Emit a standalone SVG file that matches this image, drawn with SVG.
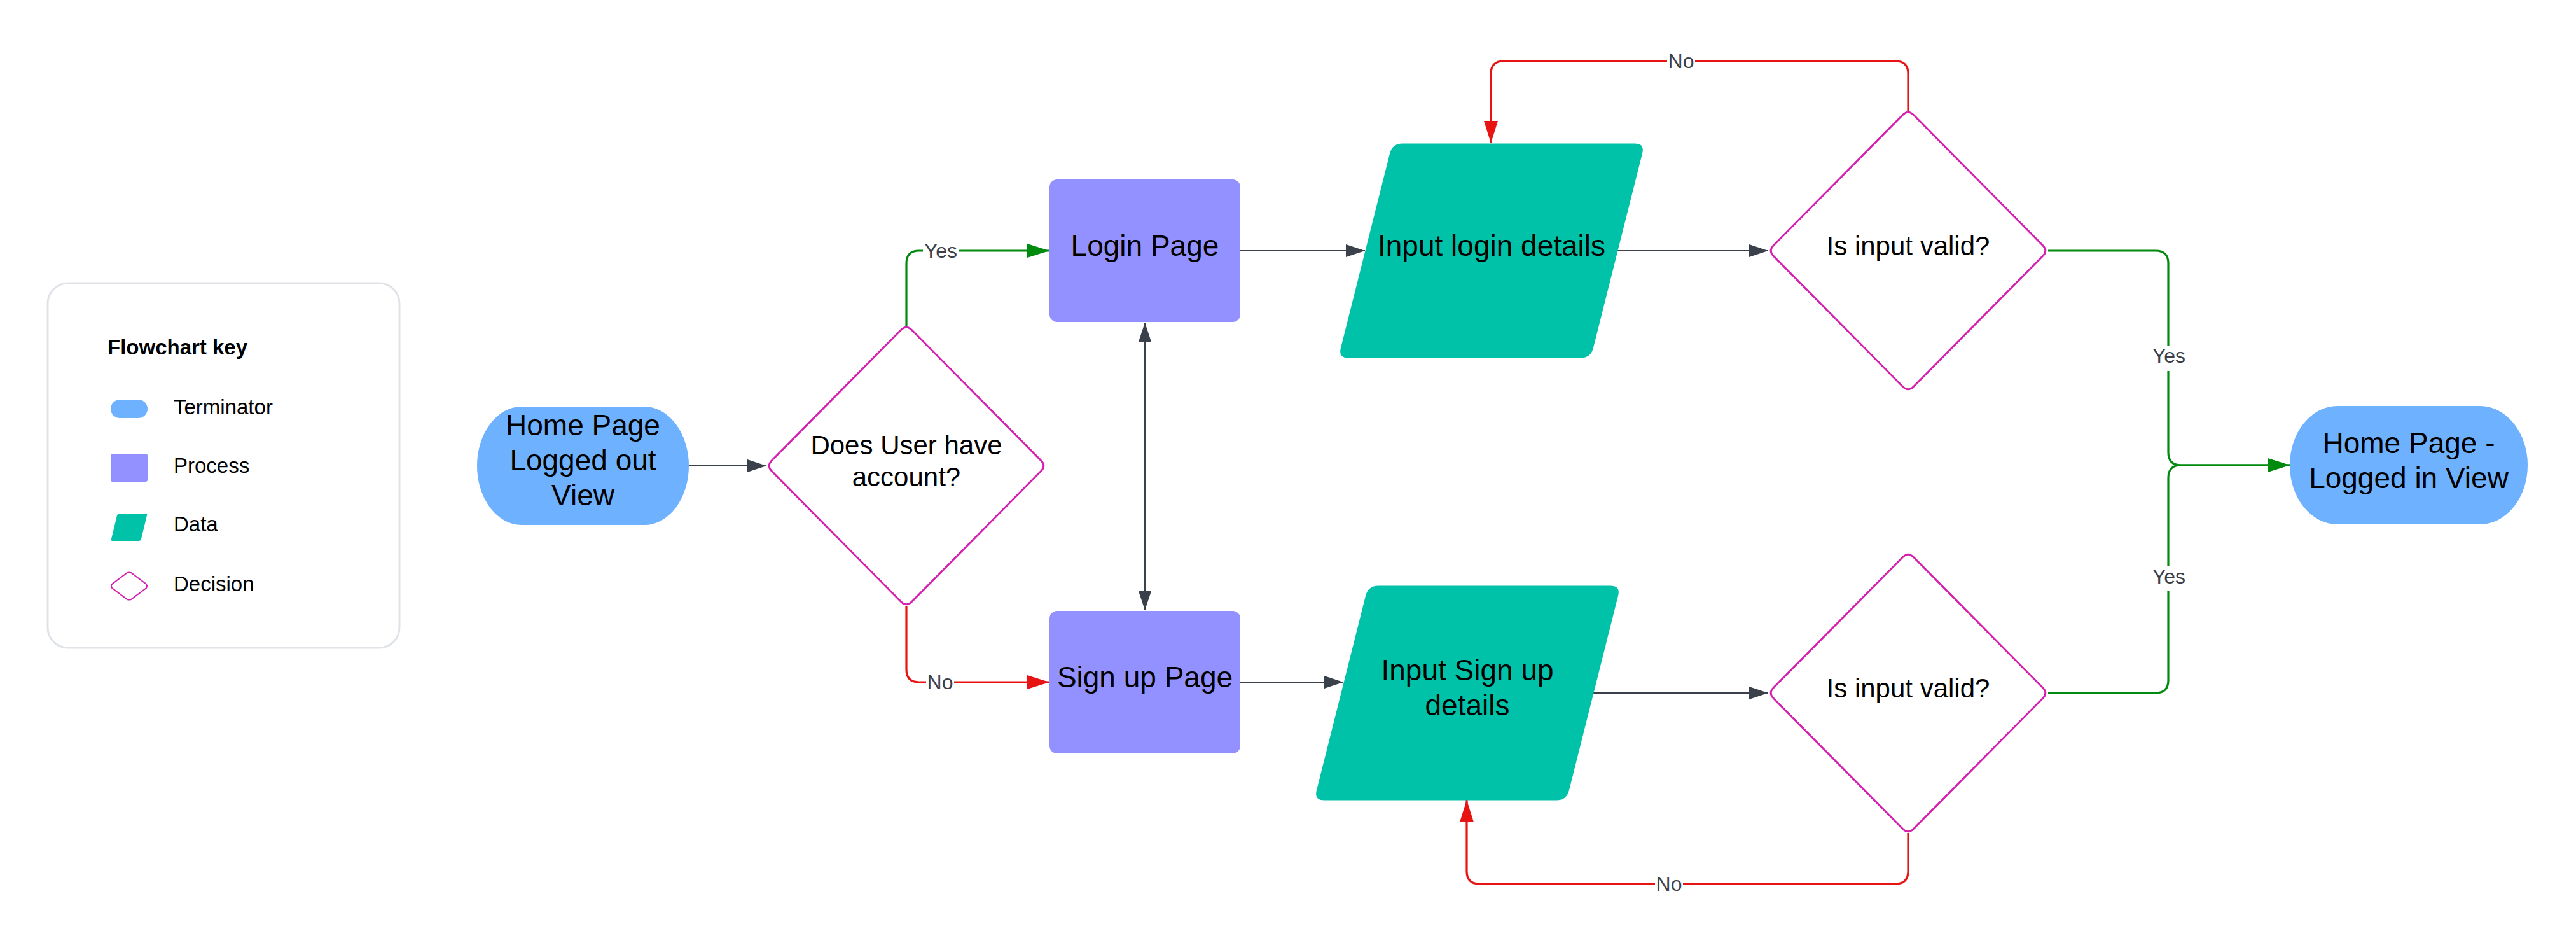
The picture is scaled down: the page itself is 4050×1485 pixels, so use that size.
<svg xmlns="http://www.w3.org/2000/svg" width="4050" height="1485" viewBox="0 0 4050 1485">
<style>
.t{font-family:"Liberation Sans",Arial,sans-serif;fill:#000;text-anchor:middle}
.n{font-size:46px}
.d{font-size:42px}
.k{font-family:"Liberation Sans",Arial,sans-serif;font-size:33px;fill:#000}
.lbl{font-family:"Liberation Sans",Arial,sans-serif;font-size:32px;fill:#3A414A;text-anchor:middle}
.term{fill:#6DB1FF}
.proc{fill:#9391FF}
.data{fill:#00C2A8}
.dec{fill:#fff;stroke:#D51FAE;stroke-width:3}
.cg{fill:none;stroke:#3A414A;stroke-width:2}
.cgr{fill:none;stroke:#008A0E;stroke-width:3.2}
.cr{fill:none;stroke:#E81313;stroke-width:3.2}
</style>
<defs>
<marker id="ag" markerUnits="userSpaceOnUse" markerWidth="30" markerHeight="20" refX="30" refY="10" orient="auto-start-reverse"><path d="M0,0 L30,10 L0,20 Z" fill="#3A414A"/></marker>
<marker id="agr" markerUnits="userSpaceOnUse" markerWidth="35" markerHeight="22" refX="35" refY="11" orient="auto"><path d="M0,0 L35,11 L0,22 Z" fill="#008A0E"/></marker>
<marker id="ar" markerUnits="userSpaceOnUse" markerWidth="35" markerHeight="22" refX="35" refY="11" orient="auto"><path d="M0,0 L35,11 L0,22 Z" fill="#E81313"/></marker>
<path id="dia" d="M-8.5,-213.5 Q0,-222 8.5,-213.5 L211.5,-8.5 Q220,0 211.5,8.5 L8.5,213.5 Q0,222 -8.5,213.5 L-211.5,8.5 Q-220,0 -211.5,-8.5 Z"/>
<path id="para" d="M-140,-168.5 L225,-168.5 Q241,-168.5 237.1,-153 L159.9,153 Q156,168.5 140,168.5 L-225,168.5 Q-241,168.5 -237.1,153 L-159.9,-153 Q-156,-168.5 -140,-168.5 Z"/>
</defs>
<rect x="0" y="0" width="4050" height="1485" fill="#fff"/>

<g id="legend">
<rect x="75" y="445" width="553" height="573" rx="32" fill="#fff" stroke="#DFE3E8" stroke-width="3"/>
<text class="k" x="169" y="557" font-weight="bold">Flowchart key</text>
<rect class="term" x="174" y="628" width="58" height="29" rx="14.5"/>
<text class="k" x="273" y="651">Terminator</text>
<rect class="proc" x="174" y="713" width="58" height="44" rx="3"/>
<text class="k" x="273" y="743">Process</text>
<path class="data" d="M187,807 L229,807 Q232,807 231,810 L222,847 Q221,850 218,850 L177,850 Q174,850 175,847 L184,810 Q185,807 187,807 Z"/>
<text class="k" x="273" y="835">Data</text>
<path d="M200,900 Q203,899 206,900 L230,918 Q232,921 230,924 L206,942 Q203,943 200,942 L176,924 Q174,921 176,918 Z" fill="#fff" stroke="#D51FAE" stroke-width="2"/>
<text class="k" x="273" y="929">Decision</text>
</g>

<g id="connectors">
<path class="cg" d="M1083,732 L1205,732" marker-end="url(#ag)"/>
<path class="cg" d="M1950,394 L2146,394" marker-end="url(#ag)"/>
<path class="cg" d="M2543,394 L2780,394" marker-end="url(#ag)"/>
<path class="cg" d="M1800,507 L1800,959" marker-start="url(#ag)" marker-end="url(#ag)"/>
<path class="cg" d="M1950,1072 L2112,1072" marker-end="url(#ag)"/>
<path class="cg" d="M2505,1089 L2780,1089" marker-end="url(#ag)"/>

<path class="cgr" d="M1425,512 L1425,414 Q1425,394 1445,394 L1650,394" marker-end="url(#agr)"/>
<rect x="1451" y="376" width="57" height="36" fill="#fff"/>
<text class="lbl" x="1479" y="405">Yes</text>

<path class="cr" d="M1425,952 L1425,1052 Q1425,1072 1445,1072 L1650,1072" marker-end="url(#ar)"/>
<rect x="1456" y="1054" width="44" height="36" fill="#fff"/>
<text class="lbl" x="1478" y="1083">No</text>

<path class="cr" d="M3000,174 L3000,116 Q3000,96 2980,96 L2364,96 Q2344,96 2344,116 L2344,225" marker-end="url(#ar)"/>
<rect x="2621" y="78" width="44" height="36" fill="#fff"/>
<text class="lbl" x="2643" y="107">No</text>

<path class="cr" d="M3000,1309 L3000,1369 Q3000,1389 2980,1389 L2326,1389 Q2306,1389 2306,1369 L2306,1257" marker-end="url(#ar)"/>
<rect x="2602" y="1371" width="44" height="36" fill="#fff"/>
<text class="lbl" x="2624" y="1400">No</text>

<path class="cgr" d="M3220,394 L3389,394 Q3409,394 3409,414 L3409,711 Q3409,731 3429,731 L3600,731" marker-end="url(#agr)"/>
<rect x="3381" y="543" width="58" height="40" fill="#fff"/>
<text class="lbl" x="3410" y="570">Yes</text>

<path class="cgr" d="M3220,1089 L3389,1089 Q3409,1089 3409,1069 L3409,751 Q3409,731 3429,731 L3600,731" marker-end="url(#agr)"/>
<rect x="3381" y="889" width="58" height="40" fill="#fff"/>
<text class="lbl" x="3410" y="917">Yes</text>
</g>

<g id="home-logged-out">
<rect class="term" x="750" y="639" width="333" height="186" rx="70" ry="93"/>
<text class="t n" x="916.5" y="684">Home Page</text>
<text class="t n" x="916.5" y="739">Logged out</text>
<text class="t n" x="916.5" y="794">View</text>
</g>

<g id="has-account">
<use href="#dia" x="1425" y="732" class="dec"/>
<text class="t d" x="1425" y="714">Does User have</text>
<text class="t d" x="1425" y="764">account?</text>
</g>

<g id="login-page">
<rect class="proc" x="1650" y="282" width="300" height="224" rx="12"/>
<text class="t n" x="1800" y="402">Login Page</text>
</g>

<g id="signup-page">
<rect class="proc" x="1650" y="960" width="300" height="224" rx="12"/>
<text class="t n" x="1800" y="1080">Sign up Page</text>
</g>

<g id="input-login">
<use href="#para" x="2345" y="394" class="data"/>
<text class="t n" x="2345" y="402">Input login details</text>
</g>

<g id="input-signup">
<use href="#para" x="2307" y="1089" class="data"/>
<text class="t n" x="2307" y="1069">Input Sign up</text>
<text class="t n" x="2307" y="1124">details</text>
</g>

<g id="valid-login">
<use href="#dia" x="3000" y="394" class="dec"/>
<text class="t d" x="3000" y="401">Is input valid?</text>
</g>

<g id="valid-signup">
<use href="#dia" x="3000" y="1089" class="dec"/>
<text class="t d" x="3000" y="1096">Is input valid?</text>
</g>

<g id="home-logged-in">
<rect class="term" x="3600" y="638" width="374" height="186" rx="75" ry="93"/>
<text class="t n" x="3787" y="712">Home Page -</text>
<text class="t n" x="3787" y="767">Logged in View</text>
</g>
</svg>
